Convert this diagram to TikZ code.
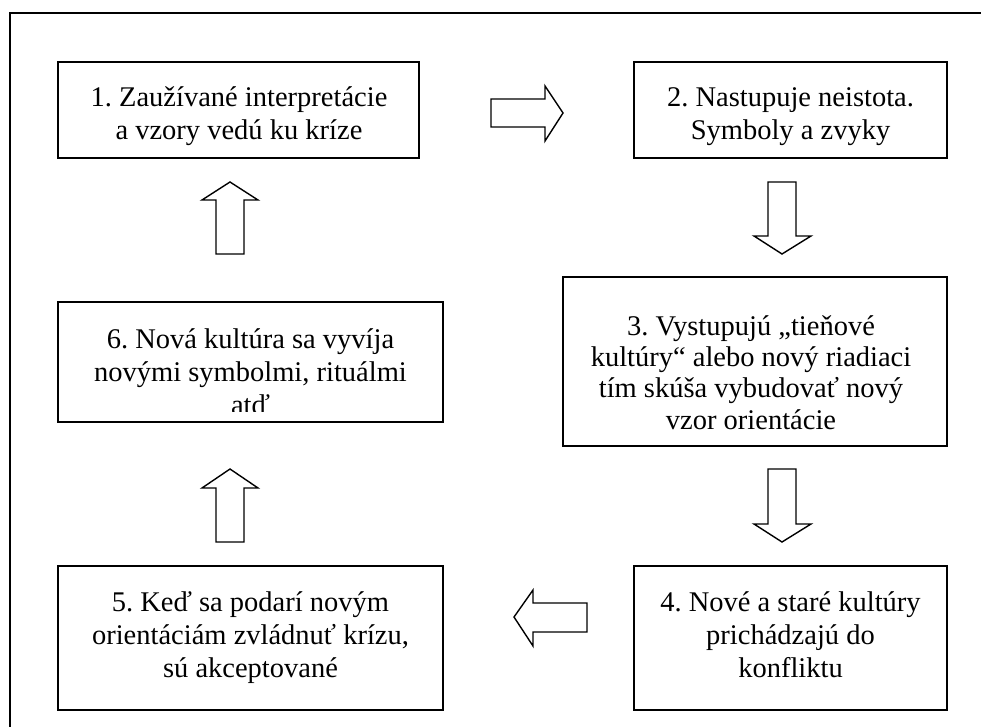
\documentclass[tikz,border=0pt]{standalone}
\usepackage{fontspec}
\setmainfont{Liberation Serif}
\frenchspacing
\begin{document}
\begin{tikzpicture}[x=1pt,y=-1pt,
  box/.style={draw, line width=1.6pt, inner sep=0pt},
  txt/.style={align=center, font=\fontsize{28.5}{33}\selectfont, inner sep=0pt, anchor=base},
  blockarrow/.style={draw, line width=1.4pt, fill=white, line join=miter}]
\useasboundingbox (0,0) rectangle (981,727);
\draw[line width=1.6pt] (981,13) -- (10,13) -- (10,727);

% boxes
\node[box, minimum width=361pt, minimum height=96pt] (b1) at (238.5,110) {};
\node[box, minimum width=313pt, minimum height=96pt] (b2) at (790.5,110) {};
\node[box, minimum width=384pt, minimum height=169pt] (b3) at (755,361.5) {};
\node[box, minimum width=313pt, minimum height=144pt] (b4) at (790.5,638) {};
\node[box, minimum width=385pt, minimum height=144pt] (b5) at (250.5,638) {};
\node[box, minimum width=385pt, minimum height=120pt] (b6) at (250.5,362) {};

% texts (anchor=base is the baseline of the last line)
\node[txt] (t1) at (239,140) {1. Zaužívané interpretácie\\a vzory vedú ku kríze};
\node[txt] (t2) at (790.5,140) {2. Nastupuje neistota.\\Symboly a zvyky};
\node[txt, font=\fontsize{28.5}{31.3}\selectfont] (t3) at (751,429) {3. Vystupujú „tieňové\\kultúry“ alebo nový riadiaci\\tím skúša vybudovať nový\\vzor orientácie};
\node[txt] (t4) at (790.5,677) {4. Nové a staré kultúry\\prichádzajú do\\konfliktu};
\node[txt] (t5) at (250.5,677) {5. Keď sa podarí novým\\orientáciám zvládnuť krízu,\\sú akceptované};
\begin{scope}
\clip (58,302) rectangle (443,411.5);
\node[txt] (t6) at (250.5,414) {6. Nová kultúra sa vyvíja\\novými symbolmi, rituálmi\\atď};
\end{scope}

% block arrows
% 1 -> 2 (right)
\draw[blockarrow] (491,99) -- (545,99) -- (545,86) -- (563,113) -- (545,141) -- (545,127) -- (491,127) -- cycle;
% 2 -> 3 (down)
\draw[blockarrow] (768,182) -- (796,182) -- (796,236) -- (811,236) -- (782,254) -- (754,236) -- (768,236) -- cycle;
% 3 -> 4 (down)
\draw[blockarrow] (768,469) -- (796,469) -- (796,524) -- (811,524) -- (782,542) -- (754,524) -- (768,524) -- cycle;
% 4 -> 5 (left)
\draw[blockarrow] (587,603) -- (533,603) -- (533,590) -- (514,617) -- (533,646) -- (533,632) -- (587,632) -- cycle;
% 5 -> 6 (up)
\draw[blockarrow] (216,542) -- (244,542) -- (244,488) -- (258,488) -- (230,469) -- (202,488) -- (216,488) -- cycle;
% 6 -> 1 (up)
\draw[blockarrow] (216,254) -- (244,254) -- (244,200) -- (258,200) -- (230,182) -- (202,200) -- (216,200) -- cycle;
\end{tikzpicture}
\end{document}
